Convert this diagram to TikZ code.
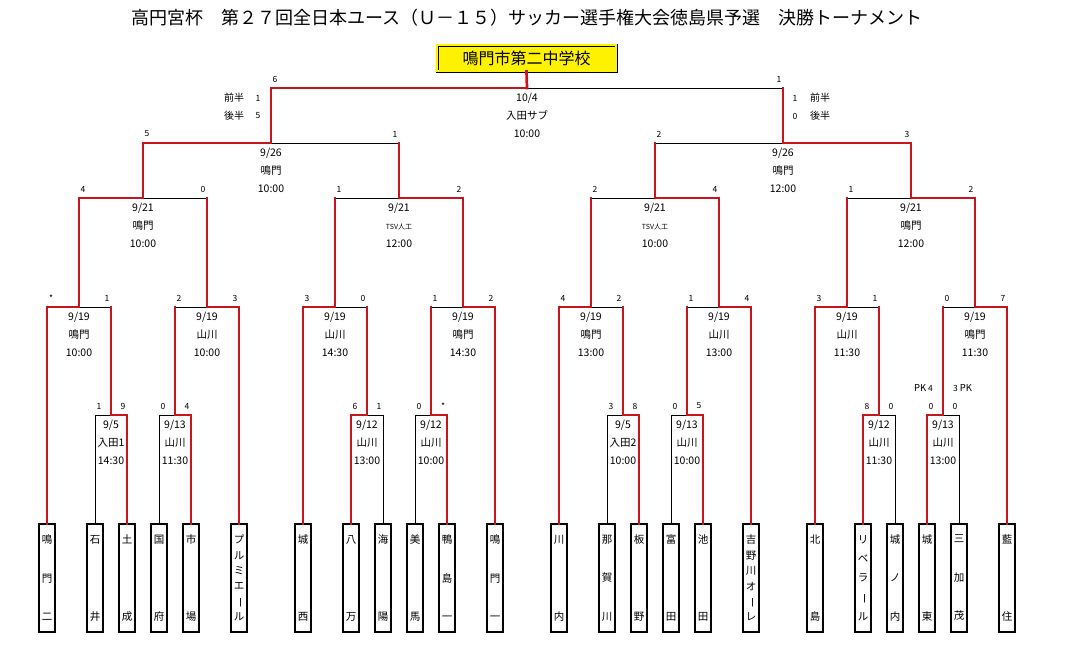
\documentclass[tikz,border=0pt]{standalone}
\usepackage{fontspec}
\usepackage{graphicx}
\setmainfont{Noto Sans CJK JP}
\usetikzlibrary{calc}
\definecolor{brkred}{RGB}{200,20,30}
\newcommand{\tatebou}{\rotatebox[origin=c]{-90}{ー}}
\newcommand{\tsv}{{\fontsize{7}{18}\selectfont TSV人工}}

\begin{document}
\begin{tikzpicture}[x=1pt, y=-1pt,
  win/.style={draw=brkred, line width=2.7pt, line cap=rect},
  lose/.style={draw=black, line width=0.9pt},
  team/.style={draw, line width=1.1pt, minimum width=16pt, minimum height=108pt, inner sep=0pt, align=center, font=\fontsize{10.5}{#1}\selectfont},
  info/.style={align=center, inner sep=0pt, font=\fontsize{10.5}{18}\selectfont},
  score/.style={inner sep=0pt, font=\fontsize{8.5}{9}\selectfont},
  half/.style={inner sep=0pt, font=\fontsize{10}{12}\selectfont},
  champ/.style={draw, double=yellow, double distance=1.4pt, line width=0.8pt, fill=yellow, minimum width=179pt, minimum height=26pt, inner sep=0pt, font=\fontsize{16}{18}\selectfont}]

  \fill[white] (0,0) rectangle (1090,648);
  \useasboundingbox (0,0) rectangle (1090,648);

  \node[font=\fontsize{18}{20}\selectfont] (title) at (527,18) {高円宮杯　第２７回全日本ユース（Ｕ－１５）サッカー選手権大会徳島県予選　決勝トーナメント};
  \node[champ] (champ) at (526.5,58) {鳴門市第二中学校};

  \coordinate (fin) at (527,88);
  \coordinate (sfL) at (271,143);
  \coordinate (sfR) at (783,143);
  \coordinate (qf1) at (143,198);
  \coordinate (qf2) at (399,198);
  \coordinate (qf3) at (655,198);
  \coordinate (qf4) at (911,198);
  \coordinate (r16a) at (79,307);
  \coordinate (r16b) at (207,307);
  \coordinate (r16c) at (335,307);
  \coordinate (r16d) at (463,307);
  \coordinate (r16e) at (591,307);
  \coordinate (r16f) at (719,307);
  \coordinate (r16g) at (847,307);
  \coordinate (r16h) at (975,307);
  \coordinate (r32a) at (111,415);
  \coordinate (r32b) at (175,415);
  \coordinate (r32c) at (367,415);
  \coordinate (r32d) at (431,415);
  \coordinate (r32e) at (623,415);
  \coordinate (r32f) at (687,415);
  \coordinate (r32g) at (879,415);
  \coordinate (r32h) at (943,415);

  \foreach \nm/\px/\sk/\txt in {naruto2/47/38.5/{鳴\\門\\二}, ishii/95/77/{石\\井}, donari/127/77/{土\\成},
      kokufu/159/77/{国\\府}, ichiba/191/77/{市\\場}, plumier/239/15.4/{プ\\ル\\ミ\\エ\\\tatebou\\ル},
      jonishi/303/77/{城\\西}, hachiman/351/77/{八\\万}, kaiyo/383/77/{海\\陽},
      mima/415/77/{美\\馬}, kamojima1/447/38.5/{鴨\\島\\一}, naruto1/495/38.5/{鳴\\門\\一},
      kawauchi/559/77/{川\\内}, nakagawa/607/38.5/{那\\賀\\川}, itano/639/77/{板\\野},
      tomita/671/77/{富\\田}, ikeda/703/77/{池\\田}, yoshinogawa/751/15.4/{吉\\野\\川\\オ\\\tatebou\\レ},
      kitajima/815/77/{北\\島}, liberal/863/19.25/{リ\\ベ\\ラ\\\tatebou\\ル}, jonouchi/895/38.5/{城\\ノ\\内},
      joto/927/77/{城\\東}, mikamo/959/38.5/{三\\加\\茂}, aizumi/1007/77/{藍\\住}}
    \node[team=\sk] (\nm) at (\px,578) {\txt};

  \foreach \g/\wi/\lo in {r32a/donari/ishii, r32b/ichiba/kokufu, r32c/hachiman/kaiyo, r32d/kamojima1/mima,
      r32e/itano/nakagawa, r32f/ikeda/tomita, r32g/liberal/jonouchi, r32h/joto/mikamo} {
    \draw[lose] (\lo.north) |- (\g);
    \draw[win] (\wi.north) |- (\g);
  }
  \foreach \g/\tm/\c in {r16a/naruto2/r32a, r16b/plumier/r32b, r16c/jonishi/r32c, r16d/naruto1/r32d,
      r16e/kawauchi/r32e, r16f/yoshinogawa/r32f, r16g/kitajima/r32g, r16h/aizumi/r32h} {
    \draw[lose] (\c |- \g) -- (\g);
    \draw[win] (\c) -- (\c |- \g);
    \draw[win] (\tm.north) |- (\g);
  }
  \foreach \g/\wi/\lo in {qf1/r16a/r16b, qf2/r16d/r16c, qf3/r16f/r16e, qf4/r16h/r16g,
      sfL/qf1/qf2, sfR/qf4/qf3, fin/sfL/sfR} {
    \draw[lose] (\lo |- \g) -- (\g);
    \draw[win] (\lo) -- (\lo |- \g);
    \draw[win] (\wi) |- (\g);
  }
  \draw[win] (fin) -- (champ.south);

  \foreach \g/\a/\b/\scl/\scr in {fin/sfL/sfR/6/1, sfL/qf1/qf2/5/1, sfR/qf3/qf4/2/3,
      qf1/r16a/r16b/4/0, qf2/r16c/r16d/1/2, qf3/r16e/r16f/2/4, qf4/r16g/r16h/1/2,
      r16a/naruto2/r32a/*/1, r16b/r32b/plumier/2/3, r16c/jonishi/r32c/3/0, r16d/r32d/naruto1/1/2,
      r16e/kawauchi/r32e/4/2, r16f/r32f/yoshinogawa/1/4, r16g/kitajima/r32g/3/1, r16h/r32h/aizumi/0/7,
      r32a/ishii/donari/1/9, r32b/kokufu/ichiba/0/4, r32c/hachiman/kaiyo/6/1, r32d/mima/kamojima1/0/*,
      r32e/nakagawa/itano/3/8, r32f/tomita/ikeda/0/5, r32g/liberal/jonouchi/8/0, r32h/joto/mikamo/0/0} {
    \node[score] (\g-l) at ($(\a |- \g)+(4,-9)$) {\scl};
    \node[score] (\g-r) at ($(\b |- \g)+(-4,-9)$) {\scr};
  }

  \foreach \g/\dt/\pl/\tm in {fin/{10/4}/入田サブ/10:00, sfL/{9/26}/鳴門/10:00, sfR/{9/26}/鳴門/12:00,
      qf1/{9/21}/鳴門/10:00, qf2/{9/21}/\tsv/12:00, qf3/{9/21}/\tsv/10:00, qf4/{9/21}/鳴門/12:00,
      r16a/{9/19}/鳴門/10:00, r16b/{9/19}/山川/10:00, r16c/{9/19}/山川/14:30, r16d/{9/19}/鳴門/14:30,
      r16e/{9/19}/鳴門/13:00, r16f/{9/19}/山川/13:00, r16g/{9/19}/山川/11:30, r16h/{9/19}/鳴門/11:30,
      r32a/{9/5}/入田1/14:30, r32b/{9/13}/山川/11:30, r32c/{9/12}/山川/13:00, r32d/{9/12}/山川/10:00,
      r32e/{9/5}/入田2/10:00, r32f/{9/13}/山川/10:00, r32g/{9/12}/山川/11:30, r32h/{9/13}/山川/13:00}
    \node[info] (\g-info) at ($(\g)+(0,27)$) {\dt\\\pl\\\tm};

  \node[half] (h1l) at (234,98) {前半};
  \node[score] (h1ls) at (258,98) {1};
  \node[half] (h2l) at (234,116) {後半};
  \node[score] (h2ls) at (258,116) {5};
  \node[score] (h1rs) at (795,98) {1};
  \node[half] (h1r) at (820,98) {前半};
  \node[score] (h2rs) at (795,116) {0};
  \node[half] (h2r) at (820,116) {後半};

  \node[score, anchor=east] (pk-l) at (933,388) {{\fontsize{9.5}{9}\selectfont PK} 4};
  \node[score, anchor=west] (pk-r) at (953,388) {3 {\fontsize{9.5}{9}\selectfont PK}};
\end{tikzpicture}
\end{document}
